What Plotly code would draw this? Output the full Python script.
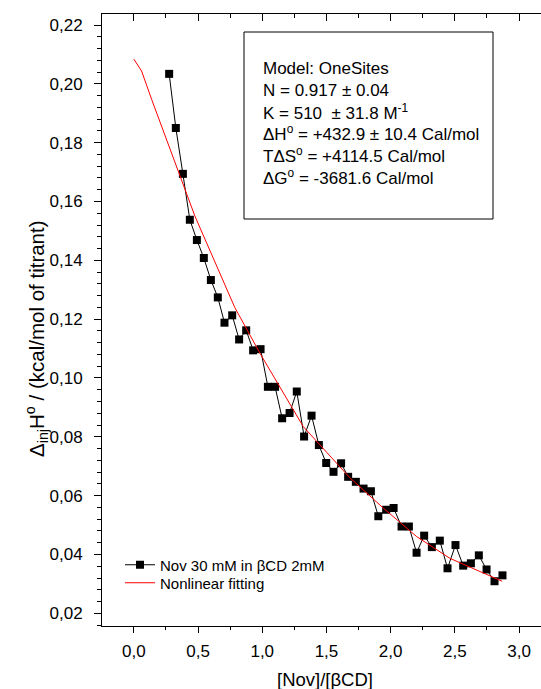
import plotly.graph_objects as go

# Titration data: molar ratio vs. injection enthalpy
ratio = [0.275, 0.327, 0.382, 0.436, 0.491, 0.545, 0.600, 0.654, 0.706, 0.766,
         0.820, 0.875, 0.929, 0.987, 1.044, 1.100, 1.155, 1.213, 1.269, 1.326,
         1.384, 1.441, 1.498, 1.555, 1.614, 1.669, 1.729, 1.789, 1.846, 1.904,
         1.965, 2.023, 2.085, 2.142, 2.202, 2.261, 2.321, 2.383, 2.443, 2.505,
         2.565, 2.625, 2.687, 2.747, 2.809, 2.871]
dH_inj = [0.2034, 0.1850, 0.1694, 0.1538, 0.1469, 0.1408, 0.1333, 0.1274, 0.1188, 0.1213,
          0.1131, 0.1162, 0.1094, 0.1098, 0.0970, 0.0970, 0.0863, 0.0881, 0.0954, 0.0801,
          0.0872, 0.0772, 0.0711, 0.0681, 0.0710, 0.0664, 0.0647, 0.0624, 0.0615, 0.0530,
          0.0552, 0.0558, 0.0495, 0.0495, 0.0406, 0.0464, 0.0425, 0.0447, 0.0353, 0.0432,
          0.0362, 0.0370, 0.0397, 0.0349, 0.0309, 0.0329]

# One-site model curve
fit_ratio = [0.0, 0.060, 0.138, 0.356, 0.475, 0.787, 0.981, 1.319, 1.579, 1.682,
             1.942, 2.202, 2.461, 2.720, 2.868]
fit_dH = [0.2084, 0.2044, 0.1948, 0.1694, 0.1551, 0.1239, 0.1085, 0.0835, 0.0708, 0.0661,
          0.0558, 0.0461, 0.0387, 0.0336, 0.0309]

x_ticks = [0.0, 0.5, 1.0, 1.5, 2.0, 2.5, 3.0]
y_ticks = [0.02, 0.04, 0.06, 0.08, 0.10, 0.12, 0.14, 0.16, 0.18, 0.20, 0.22]

fit_lines = [
    "Model: OneSites",
    "N = 0.917 \u00b1 0.04",
    "K = 510 \u00a0\u00b1 31.8 M<sup>-1</sup>",
    "\u0394H<sup>o</sup> = +432.9 \u00b1 10.4 Cal/mol",
    "T\u0394S<sup>o</sup> = +4114.5 Cal/mol",
    "\u0394G<sup>o</sup> = -3681.6 Cal/mol",
]

W, H = 541, 689
ML, MR, MT, MB = 102, 0, 14, 63
PW, PH = W - ML - MR, H - MT - MB


def px(x):
    return (x - ML) / PW


def py(y):
    return (H - MB - y) / PH


FONT = "Liberation Sans, Arial, sans-serif"
XR = [-0.248, 3.171]
YR = [0.01568, 0.22375]

fig = go.Figure()
fig.add_trace(go.Scatter(
    x=ratio, y=dH_inj, mode="lines+markers",
    name="Nov 30 mM in \u03b2CD 2mM",
    line=dict(color="black", width=1),
    marker=dict(symbol="square", size=8, color="black"),
    legend="legend",
))
fig.add_trace(go.Scatter(
    x=fit_ratio, y=fit_dH, mode="lines",
    name="Nonlinear fitting",
    line=dict(color="red", width=1),
    legend="legend2",
))
# carrier for the top tick axis
fig.add_trace(go.Scatter(x=[], y=[], xaxis="x2", showlegend=False, hoverinfo="skip"))

axis_common = dict(showgrid=False, zeroline=False, showline=True,
                   linecolor="black", linewidth=1, tickcolor="black")
tick_font = dict(family=FONT, size=17, color="black")
legend_common = dict(xanchor="left", yanchor="middle", bgcolor="rgba(0,0,0,0)",
                     borderwidth=0, font=dict(family=FONT, size=15, color="black"))

fig.update_layout(
    width=W, height=H,
    margin=dict(l=ML, r=MR, t=MT, b=MB),
    paper_bgcolor="white", plot_bgcolor="white",
    separators=", ",
    showlegend=True,
    legend=dict(x=px(120), y=py(565), **legend_common),
    legend2=dict(x=px(120), y=py(583), **legend_common),
    xaxis=dict(range=XR, tickvals=x_ticks, tickformat=".1f",
               ticks="outside", ticklen=6, tickwidth=1, tickfont=tick_font,
               ticklabelstandoff=4,
               minor=dict(dtick=0.25, tick0=0, ticks="outside", ticklen=3,
                          tickcolor="black"),
               **axis_common),
    xaxis2=dict(range=XR, overlaying="x", side="top", tickvals=x_ticks,
                showticklabels=False, ticks="inside", ticklen=7, tickwidth=1,
                minor=dict(dtick=0.25, tick0=0, ticks="inside", ticklen=4,
                           tickcolor="black"),
                **axis_common),
    yaxis=dict(range=YR, tickvals=y_ticks, tickformat=".2f",
               ticks="outside", ticklen=7, tickwidth=1, tickfont=tick_font,
               ticklabelstandoff=8,
               minor=dict(dtick=0.004, tick0=0.02, ticks="outside", ticklen=4,
                          tickcolor="black"),
               **axis_common),
)

# parameter box
fig.add_shape(type="rect", xref="paper", yref="paper",
              x0=px(244), x1=px(493), y0=py(219), y1=py(32),
              line=dict(color="black", width=1), fillcolor="rgba(0,0,0,0)")

for i, txt in enumerate(fit_lines):
    fig.add_annotation(text=txt, xref="paper", yref="paper",
                       x=px(261), y=py(68.3 + 21.7 * i),
                       xanchor="left", yanchor="middle", showarrow=False,
                       font=dict(family=FONT, size=17, color="black"))

# axis titles
fig.add_annotation(text="\u0394<sub>inj</sub>H<sup>o</sup> / (kcal/mol of titrant)",
                   xref="paper", yref="paper", x=px(36), y=py(339),
                   xanchor="center", yanchor="middle", textangle=-90,
                   showarrow=False, font=dict(family=FONT, size=20.5, color="black"))
fig.add_annotation(text="[Nov]/[\u03b2CD]", xref="paper", yref="paper",
                   x=px(325), y=py(679), xanchor="center", yanchor="middle",
                   showarrow=False, font=dict(family=FONT, size=18.5, color="black"))

fig.write_html("out.html")
